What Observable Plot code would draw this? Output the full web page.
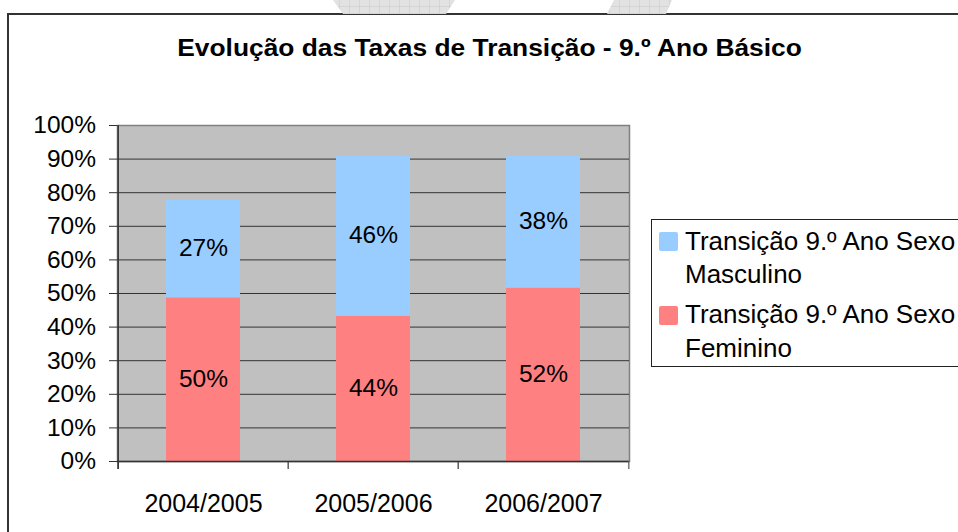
<!DOCTYPE html>
<html>
<head>
<meta charset="utf-8">
<script src="https://cdn.jsdelivr.net/npm/d3@7"></script>
<script src="https://cdn.jsdelivr.net/npm/@observablehq/plot@0.6"></script>
<style>
  html, body { margin: 0; padding: 0; overflow: hidden; background: #fff; }
  #wrap { position: relative; width: 958px; height: 532px; overflow: hidden; font-family: "Liberation Sans", Arial, sans-serif; }
  #frame { position: absolute; left: 7px; top: 13px; width: 1000px; height: 600px; border: 2px solid #333; box-sizing: border-box; }
  #legend { position: absolute; left: 651px; top: 219px; width: 400px; height: 148px; border: 1px solid #222; box-sizing: border-box; background: #fff; }
  .entry { position: absolute; left: 0; }
  .sw { position: absolute; left: 7px; width: 19px; height: 19px; border-radius: 2px; }
  .lab { position: absolute; left: 33px; font-size: 26px; line-height: 33.5px; white-space: nowrap; color: #000; }
</style>
</head>
<body>
<div id="wrap">
  <div id="frame"></div>
  <svg id="wm" width="958" height="14" style="position:absolute;left:0;top:0">
    <defs>
      <pattern id="grid" width="10" height="7" patternUnits="userSpaceOnUse">
        <rect width="10" height="7" fill="#e2e2e2"></rect>
        <path d="M10 0V7M0 7H10" stroke="#c8c8c8" stroke-width="1"></path>
      </pattern>
    </defs>
    <polygon points="333,0 455,0 446,14 343,14" fill="url(#grid)"></polygon>
    <polygon points="614,0 672,0 666,14 607,14" fill="url(#grid)"></polygon>
  </svg>
  <svg id="title" width="958" height="80" style="position:absolute;left:0;top:0">
    <text id="titleText" x="177.3" y="55.5" font-family="Liberation Sans, Arial, sans-serif" font-weight="bold" font-size="23.5" textLength="624.5" lengthAdjust="spacingAndGlyphs" fill="#000"></text>
  </svg>
  <div id="chart" style="position:absolute;left:0;top:0"></div>
  <div id="legend"></div>
</div>
<script>
const titleText = "Evolução das Taxas de Transição - 9.º Ano Básico";
const categories = ["2004/2005", "2005/2006", "2006/2007"];
const series = ["Transição 9.º Ano Sexo Masculino", "Transição 9.º Ano Sexo Feminino"];
const seriesColors = ["#99ccff", "#ff8080"];
// bar segment heights (percent)
const femValues = [48.7, 43.2, 51.6];
const mascValues = [29.0, 47.6, 39.2];
// printed data labels
const femLabels = ["50%", "44%", "52%"];
const mascLabels = ["27%", "46%", "38%"];
const yTicks = [0, 10, 20, 30, 40, 50, 60, 70, 80, 90, 100];

document.getElementById("titleText").textContent = titleText;

const data = [];
categories.forEach((c, i) => {
  data.push({year: c, sex: series[1], value: femValues[i], label: femLabels[i]});
  data.push({year: c, sex: series[0], value: mascValues[i], label: mascLabels[i]});
});

const W = 958, H = 532, mL = 117, mR = 329, mT = 125, mB = 71;
const bw = (W - mL - mR) / categories.length;
const tickLen = 8 / ((H - mT - mB) / 100);

const chart = Plot.plot({
  width: W,
  height: H,
  marginLeft: mL,
  marginRight: mR,
  marginTop: mT,
  marginBottom: mB,
  style: {background: "transparent", fontFamily: "Liberation Sans, Arial, sans-serif", color: "#000"},
  x: {type: "band", domain: categories, padding: 0, axis: null},
  y: {domain: [0, 100], axis: null},
  color: {domain: series, range: seriesColors},
  marks: [
    Plot.frame({fill: "#c0c0c0", stroke: "#808080", strokeWidth: 1.5}),
    Plot.ruleY(yTicks.slice(1, -1), {stroke: "#333", strokeWidth: 1}),
    Plot.barY(data, {x: "year", y: "value", fill: "sex", insetLeft: 48, insetRight: 48}),
    Plot.text(data, Plot.stackY({x: "year", y: "value", text: "label", fontSize: 24.5, fill: "#000", dy: -1})),
    Plot.ruleY([0], {stroke: "#333", strokeWidth: 1.5}),
    Plot.ruleX([categories[0]], {dx: -bw / 2, y1: -tickLen, y2: 100, stroke: "#333", strokeWidth: 1.5}),
    Plot.ruleX(categories, {dx: -bw / 2, y1: -tickLen, y2: 0, stroke: "#333", strokeWidth: 1.2}),
    Plot.ruleX([categories[categories.length - 1]], {dx: bw / 2, y1: -tickLen, y2: 0, stroke: "#555", strokeWidth: 1.2}),
    Plot.axisY({ticks: yTicks, tickFormat: d => d + "%", tickSize: 8, tickPadding: 13.5, fontSize: 24.5, stroke: "#333", fill: "#000", label: null}),
    Plot.axisX({tickSize: 0, tickPadding: 32.6, fontSize: 25, fill: "#000", label: null})
  ]
});
document.getElementById("chart").appendChild(chart);

// legend
const legend = document.getElementById("legend");
const entryTops = [4.6, 78.3];
series.forEach((name, i) => {
  const e = document.createElement("div");
  e.className = "entry";
  e.style.top = entryTops[i] + "px";
  const sw = document.createElement("div");
  sw.className = "sw";
  sw.style.background = seriesColors[i];
  sw.style.top = "7.4px";
  const lab = document.createElement("div");
  lab.className = "lab";
  const k = name.lastIndexOf(" ");
  lab.appendChild(document.createTextNode(name.slice(0, k)));
  lab.appendChild(document.createElement("br"));
  lab.appendChild(document.createTextNode(name.slice(k + 1)));
  e.appendChild(sw);
  e.appendChild(lab);
  legend.appendChild(e);
});
</script>
</body>
</html>
